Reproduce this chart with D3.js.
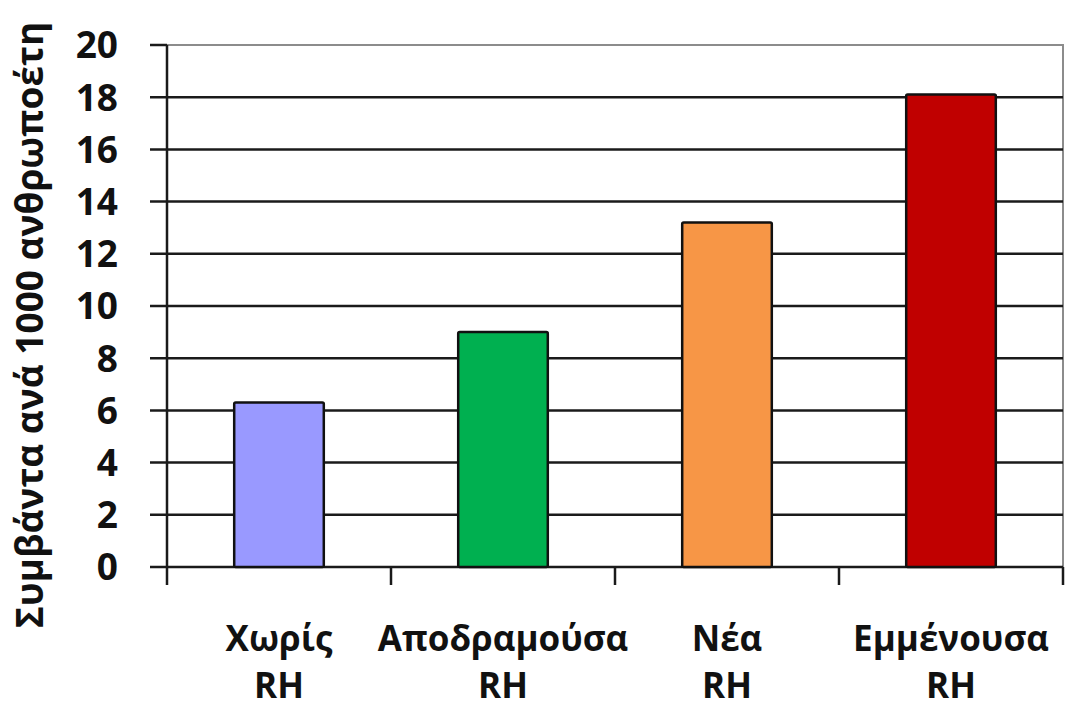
<!DOCTYPE html>
<html>
<head>
<meta charset="utf-8">
<script src="https://cdn.jsdelivr.net/npm/d3@7"></script>
<style>
  html, body { margin: 0; padding: 0; background: #fff; }
  svg { display: block; }
  text { font-family: "Open Sans", "DejaVu Sans", sans-serif; font-weight: 700; fill: #111; }
</style>
</head>
<body>
<svg id="chart" width="1070" height="709"></svg>
<script>
// Incidence per 1000 person-years by RH category
const categories = ["Χωρίς RH", "Αποδραμούσα RH", "Νέα RH", "Εμμένουσα RH"];
const labelLines = [["Χωρίς", "RH"], ["Αποδραμούσα", "RH"], ["Νέα", "RH"], ["Εμμένουσα", "RH"]];
const values = [6.3, 9.0, 13.2, 18.1];
const barColors = ["#9999FF", "#00B050", "#F79646", "#C00000"];
const yTicks = [0, 2, 4, 6, 8, 10, 12, 14, 16, 18, 20];
const yTitle = "Συμβάντα ανά 1000 ανθρωποέτη";

const svg = d3.select("#chart");
const plot = { left: 167, right: 1063, top: 45, bottom: 567 };

const y = d3.scaleLinear().domain([0, 20]).range([plot.bottom, plot.top]);
const x = d3.scaleBand()
  .domain(categories)
  .range([plot.left, plot.right])
  .paddingInner(0.6)
  .paddingOuter(0.3);

// Plot-area frame (top and right edges in grey)
svg.append("path")
  .attr("d", `M${plot.left},${y(20)}H${plot.right}V${plot.bottom}`)
  .attr("fill", "none")
  .attr("stroke", "#8c8c8c")
  .attr("stroke-width", 2);

// Horizontal gridlines with the outer tick marks on the left
svg.append("g")
  .selectAll("line")
  .data(yTicks.filter(d => d < 20))
  .join("line")
  .attr("x1", plot.left - 17)
  .attr("x2", plot.right)
  .attr("y1", d => y(d))
  .attr("y2", d => y(d))
  .attr("stroke", "#1a1a1a")
  .attr("stroke-width", 2.5);

// Tick at the top value
svg.append("line")
  .attr("x1", plot.left - 17).attr("x2", plot.left)
  .attr("y1", y(20)).attr("y2", y(20))
  .attr("stroke", "#1a1a1a").attr("stroke-width", 2.5);

// Vertical axis line
svg.append("line")
  .attr("x1", plot.left).attr("x2", plot.left)
  .attr("y1", y(20)).attr("y2", plot.bottom + 18)
  .attr("stroke", "#1a1a1a").attr("stroke-width", 2.5);

// Category boundary ticks below the baseline
const bounds = categories.map(c => x(c) - x.step() * x.paddingOuter()).concat([plot.right]);
svg.append("g")
  .selectAll("line")
  .data(bounds.slice(1))
  .join("line")
  .attr("x1", d => d).attr("x2", d => d)
  .attr("y1", plot.bottom).attr("y2", plot.bottom + 18)
  .attr("stroke", "#1a1a1a").attr("stroke-width", 2.5);

// Y tick labels
svg.append("g")
  .selectAll("text")
  .data(yTicks)
  .join("text")
  .attr("x", 118)
  .attr("y", d => y(d))
  .attr("dy", "0.36em")
  .attr("text-anchor", "end")
  .style("font-size", "37px")
  .text(d => d);

// Bars
svg.append("g")
  .selectAll("rect")
  .data(values)
  .join("rect")
  .attr("x", (d, i) => x(categories[i]))
  .attr("width", x.bandwidth())
  .attr("y", d => y(d))
  .attr("height", d => y(0) - y(d))
  .attr("rx", 1.5)
  .attr("fill", (d, i) => barColors[i])
  .attr("stroke", "#111")
  .attr("stroke-width", 2.5);

// Category labels (two lines each)
const catG = svg.append("g")
  .selectAll("text")
  .data(categories)
  .join("text")
  .attr("text-anchor", "middle")
  .style("font-size", "35px");
catG.each(function (c, i) {
  const t = d3.select(this);
  labelLines[i].forEach((line, k) => {
    t.append("tspan")
      .attr("x", x(c) + x.bandwidth() / 2)
      .attr("y", 651 + k * 47)
      .text(line);
  });
});

// Y axis title
svg.append("text")
  .attr("transform", `translate(43,325) rotate(-90)`)
  .attr("text-anchor", "middle")
  .style("font-size", "37px")
  .text(yTitle);
</script>
</body>
</html>
